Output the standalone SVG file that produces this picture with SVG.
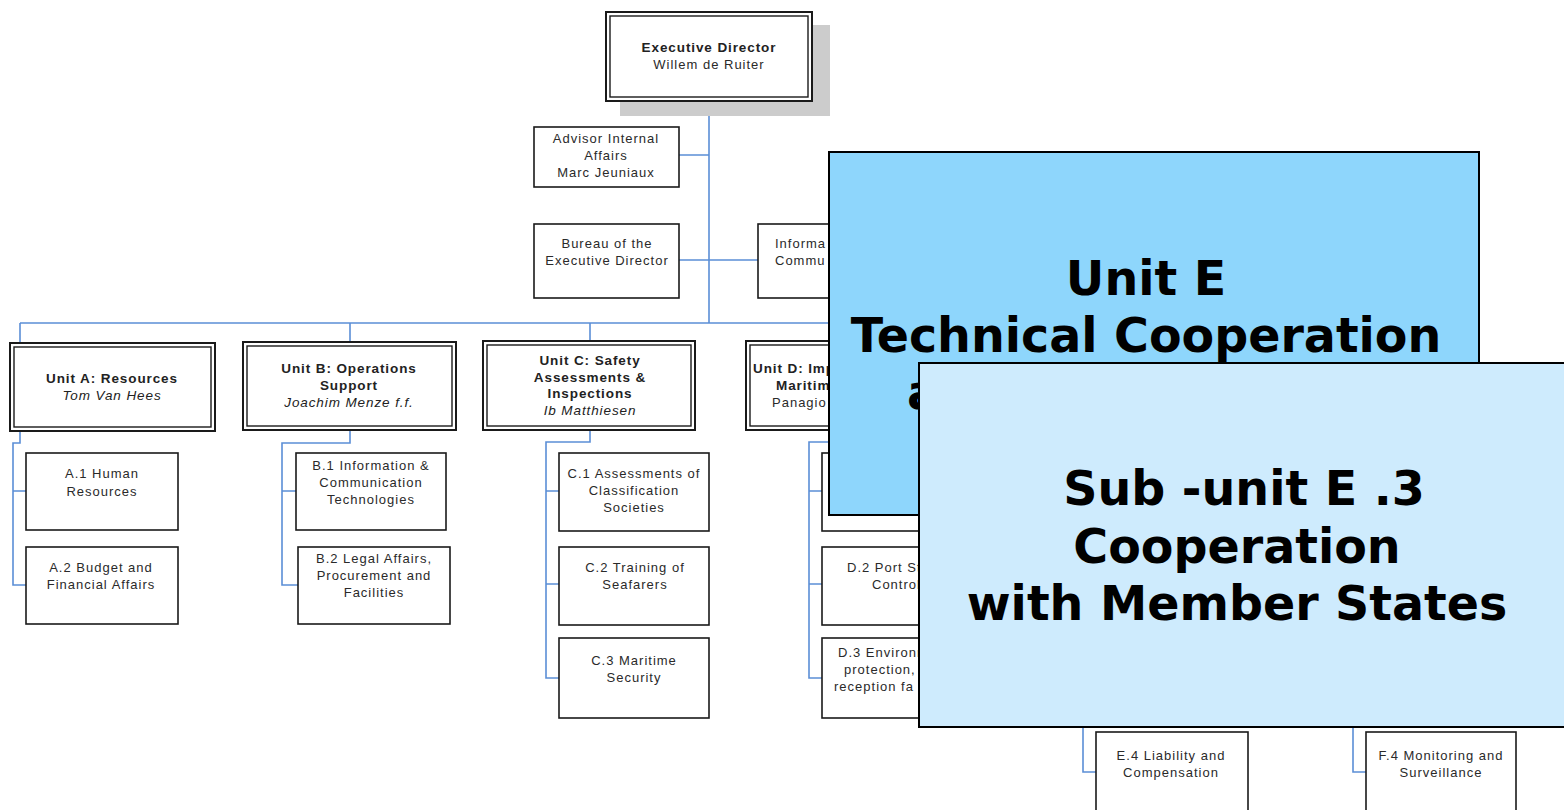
<svg xmlns="http://www.w3.org/2000/svg" width="1564" height="810" viewBox="0 0 1564 810">
<style>
.bx{fill:#fff;stroke:#1a1a1a;stroke-width:1.6}
.bo{fill:#fff;stroke:#1a1a1a;stroke-width:2}
.bi{fill:none;stroke:#1a1a1a;stroke-width:1.4}
.cn{fill:none;stroke:#5b8ed6;stroke-width:1.6}
.t{font-family:"Liberation Sans",Arial,sans-serif;font-size:13px;letter-spacing:1px;fill:#2a2a2a;text-anchor:middle}
.tb{font-family:"Liberation Sans",Arial,sans-serif;font-size:13.5px;letter-spacing:0.9px;font-weight:bold;fill:#222;text-anchor:middle}
.ti{font-style:italic;font-weight:normal}
.big{font-family:"DejaVu Sans","Liberation Sans",sans-serif;font-size:47.5px;font-weight:bold;fill:#000;text-anchor:middle}
.ts,.big.ts{text-anchor:start}
</style>
<rect width="1564" height="810" fill="#fff"/>

<g id="connectors">
<path class="cn" d="M709 101V323M20 323H860M20 323V343M350 323V342M590 323V341M852 323V341"/>
<path class="cn" d="M679 155H709M679 260H758"/>
<path class="cn" d="M20 431V443H13V585H26M13 491H26"/>
<path class="cn" d="M350 430V443H282V585H298M282 491H296"/>
<path class="cn" d="M590 430V442H546V678H559M546 491H559M546 584H559"/>
<path class="cn" d="M852 430V442H809V678H822M809 491H822M809 584H822"/>
<path class="cn" d="M1083 720V772H1096M1353 720V772H1366"/>
</g>

<g id="exec">
<rect x="620" y="25" width="210" height="91" fill="#cccccc"/>
<rect class="bo" x="606" y="12" width="206" height="89"/>
<rect class="bi" x="610" y="16" width="198" height="81"/>
<text class="tb" x="709" y="52">Executive Director</text>
<text class="t" x="709" y="69">Willem de Ruiter</text>
</g>

<g id="advisor">
<rect class="bx" x="534" y="127" width="145" height="60"/>
<text class="t" x="606" y="143">Advisor Internal</text>
<text class="t" x="606" y="160">Affairs</text>
<text class="t" x="606" y="177">Marc Jeuniaux</text>
</g>

<g id="bureau">
<rect class="bx" x="534" y="224" width="145" height="74"/>
<text class="t" x="607" y="248">Bureau of the</text>
<text class="t" x="607" y="265">Executive Director</text>
</g>

<g id="info">
<rect class="bx" x="758" y="224" width="145" height="74"/>
<text class="t ts" x="775" y="248">Informa</text>
<text class="t ts" x="775" y="265">Commu</text>
</g>

<g id="unitA">
<rect class="bo" x="10" y="343" width="205" height="88"/>
<rect class="bi" x="14" y="347" width="197" height="80"/>
<text class="tb" x="112" y="383">Unit A: Resources</text>
<text class="tb ti" x="112" y="400">Tom Van Hees</text>
</g>

<g id="unitB">
<rect class="bo" x="243" y="342" width="213" height="88"/>
<rect class="bi" x="247" y="346" width="205" height="80"/>
<text class="tb" x="349" y="373">Unit B: Operations</text>
<text class="tb" x="349" y="390">Support</text>
<text class="tb ti" x="349" y="407">Joachim Menze f.f.</text>
</g>

<g id="unitC">
<rect class="bo" x="483" y="341" width="212" height="89"/>
<rect class="bi" x="487" y="345" width="204" height="81"/>
<text class="tb" x="590" y="365">Unit C: Safety</text>
<text class="tb" x="590" y="382">Assessments &amp;</text>
<text class="tb" x="590" y="398">Inspections</text>
<text class="tb ti" x="590" y="415">Ib Matthiesen</text>
</g>

<g id="unitD">
<rect class="bo" x="746" y="341" width="212" height="89"/>
<rect class="bi" x="750" y="345" width="204" height="81"/>
<text class="tb ts" x="753" y="373">Unit D: Imp</text>
<text class="tb ts" x="776" y="390">Maritime</text>
<text class="t ts" x="772" y="407">Panagio</text>
</g>

<g id="a1"><rect class="bx" x="26" y="453" width="152" height="77"/>
<text class="t" x="102" y="478">A.1 Human</text><text class="t" x="102" y="496">Resources</text></g>
<g id="a2"><rect class="bx" x="26" y="547" width="152" height="77"/>
<text class="t" x="101" y="572">A.2 Budget and</text><text class="t" x="101" y="589">Financial Affairs</text></g>

<g id="b1"><rect class="bx" x="296" y="453" width="150" height="77"/>
<text class="t" x="371" y="470">B.1 Information &amp;</text><text class="t" x="371" y="487">Communication</text><text class="t" x="371" y="504">Technologies</text></g>
<g id="b2"><rect class="bx" x="298" y="547" width="152" height="77"/>
<text class="t" x="374" y="563">B.2 Legal Affairs,</text><text class="t" x="374" y="580">Procurement and</text><text class="t" x="374" y="597">Facilities</text></g>

<g id="c1"><rect class="bx" x="559" y="453" width="150" height="78"/>
<text class="t" x="634" y="478">C.1 Assessments of</text><text class="t" x="634" y="495">Classification</text><text class="t" x="634" y="512">Societies</text></g>
<g id="c2"><rect class="bx" x="559" y="547" width="150" height="78"/>
<text class="t" x="635" y="572">C.2 Training of</text><text class="t" x="635" y="589">Seafarers</text></g>
<g id="c3"><rect class="bx" x="559" y="638" width="150" height="80"/>
<text class="t" x="634" y="665">C.3 Maritime</text><text class="t" x="634" y="682">Security</text></g>

<g id="d1"><rect class="bx" x="822" y="453" width="150" height="78"/></g>
<g id="d2"><rect class="bx" x="822" y="547" width="150" height="78"/>
<text class="t ts" x="847" y="572">D.2 Port St</text><text class="t ts" x="872" y="589">Control</text></g>
<g id="d3"><rect class="bx" x="822" y="638" width="150" height="80"/>
<text class="t ts" x="838" y="657">D.3 Environm</text><text class="t ts" x="844" y="674">protection, p</text><text class="t ts" x="834" y="691">reception fa</text></g>

<g id="e4"><rect class="bx" x="1096" y="732" width="152" height="90"/>
<text class="t" x="1171" y="760">E.4 Liability and</text><text class="t" x="1171" y="777">Compensation</text></g>
<g id="f4"><rect class="bx" x="1366" y="732" width="150" height="90"/>
<text class="t" x="1441" y="760">F.4 Monitoring and</text><text class="t" x="1441" y="777">Surveillance</text></g>

<g id="unitE">
<rect x="829" y="152" width="650" height="363" fill="#8ed6fc" stroke="#000" stroke-width="2"/>
<text class="big" x="1146" y="295">Unit E</text>
<text class="big" x="1146" y="352">Technical Cooperation</text>
<text class="big ts" x="907" y="409">a</text>
</g>

<g id="subunitE3">
<rect x="919" y="363" width="660" height="364" fill="#ceebfd" stroke="#000" stroke-width="2"/>
<text class="big" x="1244" y="505">Sub -unit E .3</text>
<text class="big" x="1237" y="563">Cooperation</text>
<text class="big" x="1237" y="620">with Member States</text>
</g>
</svg>
